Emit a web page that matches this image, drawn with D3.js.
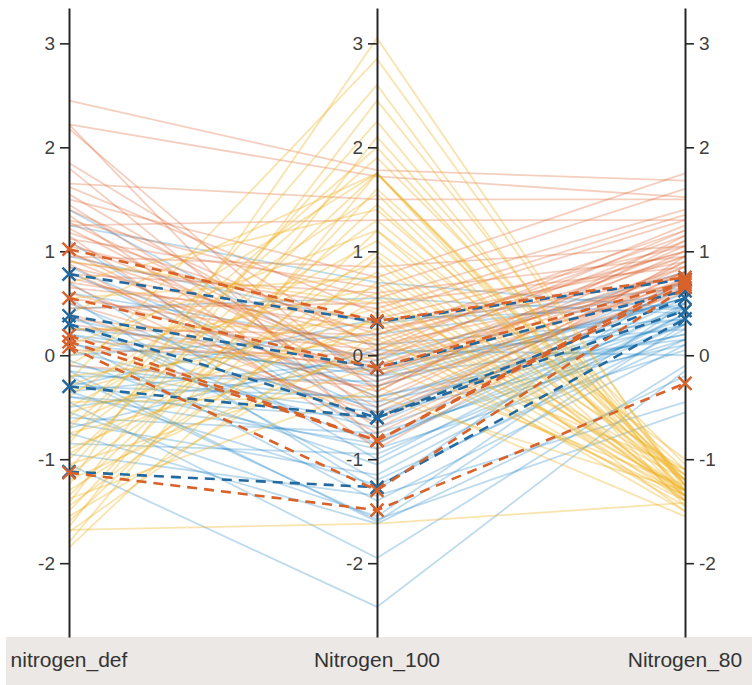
<!DOCTYPE html>
<html>
<head>
<meta charset="utf-8">
<script src="https://cdn.jsdelivr.net/npm/d3@7"></script>
<style>
  html, body { margin: 0; padding: 0; background: #ffffff; }
  svg { display: block; }
</style>
</head>
<body>
<svg id="chart" width="752" height="685"></svg>
<script>
// ---- data ----
const dimensions = ["nitrogen_def", "Nitrogen_100", "Nitrogen_80"];
const tickValues = [-2, -1, 0, 1, 2, 3];

// group 1 (blue): [nitrogen_def, Nitrogen_100, Nitrogen_80]
const blueLines = [
  [1.40, -0.20, 0.55], [1.25, 0.70, 0.45], [1.10, -0.80, 0.30], [0.95, 0.30, 0.65],
  [0.85, -0.40, 0.20], [0.70, -1.00, 0.50], [0.60, 0.10, 0.35], [0.50, -0.65, 0.60],
  [0.45, 0.55, 0.40], [0.40, -1.20, 0.15], [0.35, -0.30, 0.55], [0.30, -0.85, 0.45],
  [0.25, 0.00, 0.25], [0.20, -0.50, 0.70], [0.15, -1.40, 0.10], [0.10, -0.15, 0.50],
  [0.05, -0.70, 0.35], [0.00, 0.20, 0.60], [-0.05, -1.05, 0.40], [-0.10, -0.45, 0.20],
  [-0.15, -1.60, 0.30], [-0.20, -0.25, 0.55], [-0.25, -0.90, 0.05], [-0.30, 0.35, 0.45],
  [-0.35, -1.25, 0.25], [-0.40, -0.60, 0.65], [-0.45, -1.95, -0.10], [-0.50, -0.10, 0.35],
  [-0.55, -1.55, 0.50], [-0.60, -0.75, 0.15], [-0.65, -1.15, 0.40], [-0.70, 0.05, 0.00],
  [-0.75, -1.62, -0.20], [-0.85, -0.95, 0.30], [-0.95, -1.35, -0.45], [-1.05, -2.42, -0.15],
  [-0.20, -1.58, -0.55], [0.55, -1.30, 0.75], [-0.35, -0.05, 0.80], [0.80, -0.55, 0.10],
  [-0.30, -0.40, 0.30], [-0.40, -0.85, 0.55], [0.20, -0.20, 0.15], [-0.15, -0.55, 0.45]
];

// group 2 (orange)
const orangeLines = [
  [2.45, 1.78, 1.68], [2.22, 1.72, 1.52], [2.22, -0.85, 0.95], [2.18, -0.35, 1.10],
  [1.85, 0.05, 1.25], [1.80, -0.60, 0.80], [1.65, 1.50, 1.50], [1.62, 0.40, 1.30],
  [1.55, -0.20, 1.05], [1.50, 0.75, 1.75], [1.45, -0.45, 0.90], [1.40, 0.10, 1.15],
  [1.35, -0.70, 0.70], [1.30, 0.55, 1.40], [1.28, -0.15, 0.85], [1.25, 1.30, 1.30],
  [1.22, -0.30, 1.00], [1.18, 0.20, 1.20], [1.15, -0.90, 0.75], [1.12, 0.65, 1.60],
  [1.08, -0.10, 0.95], [1.05, 0.30, 0.90], [1.00, -0.50, 0.80], [0.98, 0.00, 1.10],
  [0.95, 0.85, 1.05], [0.92, -0.25, 0.70], [0.90, 0.45, 1.35], [0.88, -0.75, 0.65],
  [0.85, 0.15, 1.00], [0.80, -0.40, 0.85], [0.78, 0.60, 0.95], [0.75, -0.05, 1.20],
  [0.70, 0.25, 0.75], [0.68, -0.65, 0.90], [0.65, 0.35, 1.05], [0.60, -0.20, 0.80],
  [0.55, 0.10, 0.70], [0.50, -0.35, 1.15], [0.45, 0.50, 0.85], [0.40, -0.55, 0.75],
  [0.35, 0.05, 0.95], [0.30, -0.15, 0.65], [0.25, 0.20, 1.00], [0.15, -0.10, 0.80],
  [0.05, 0.00, 0.70], [-0.10, -0.30, 0.60]
];

// group 3 (yellow)
const yellowLines = [
  [-1.85, 0.95, -1.35], [-1.80, 1.75, -1.25], [-1.68, -1.62, -1.42], [-1.70, 0.40, -1.30],
  [-1.65, 2.10, -1.20], [-1.60, 1.20, -1.40], [-1.55, 0.20, -1.50], [-1.50, 1.60, -1.10],
  [-1.45, 0.70, -1.35], [-1.42, 2.45, -1.25], [-1.38, -0.30, -1.55], [-1.35, 1.45, -1.30],
  [-1.30, 0.55, -1.15], [-1.25, 3.05, -1.30], [-1.20, 0.10, -1.40], [-1.15, 1.00, -1.20],
  [-1.10, 2.25, -1.35], [-1.05, -0.10, -1.25], [-1.00, 1.75, -1.45], [-0.95, 0.80, -1.10],
  [-0.90, 0.35, -1.30], [-0.85, 2.60, -1.40], [-0.80, 1.30, -1.20], [-0.75, 0.00, -1.35],
  [-0.70, 1.90, -1.05], [-0.65, 0.60, -1.30], [-0.60, 2.00, -1.25], [-0.55, 0.25, -1.45],
  [-0.50, 1.10, -1.15], [-0.45, -0.40, -1.30], [-0.40, 1.55, -1.35], [-0.35, 0.45, -1.20],
  [-0.30, 0.90, -1.40], [-0.25, 2.85, -1.25], [-0.20, 0.15, -1.10], [-0.10, 1.75, -1.30],
  [0.00, 0.65, -1.50], [0.10, 1.20, -1.00], [0.25, 0.30, -1.35], [0.40, 1.75, -1.20],
  [0.55, 0.75, -1.30], [0.70, 1.40, -1.15], [0.90, 0.50, -1.40]
];

// highlighted (dashed, x markers)
const blueDashed = [
  [0.78, 0.32, 0.73], [0.38, -0.12, 0.62], [0.30, -0.60, 0.43],
  [-0.30, -0.60, 0.55], [-1.12, -1.27, 0.35]
];
const orangeDashed = [
  [1.02, 0.33, 0.75], [0.55, -0.12, 0.70], [0.19, -0.82, 0.68],
  [0.08, -1.30, 0.65], [0.13, -0.82, 0.72], [-1.13, -1.49, -0.27]
];

// ---- chart ----
const W = 752, H = 685;
const svg = d3.select("#chart");
const plotTop = 8, plotBottom = 637;

const x = d3.scalePoint().domain(dimensions).range([69, 685]);
const y = d3.scaleLinear().domain([-2.71, 3.34]).range([plotBottom, plotTop]);

const line = d3.line()
  .x((d, i) => x(dimensions[i]))
  .y(d => y(d));

// bottom band
svg.append("rect")
  .attr("x", 6).attr("y", plotBottom)
  .attr("width", W - 6).attr("height", H - plotBottom)
  .attr("fill", "#ebe8e5");

const groups = [
  { data: blueLines, color: "#0072BD", opacity: 0.26 },
  { data: orangeLines, color: "#D95319", opacity: 0.28 },
  { data: yellowLines, color: "#EDB120", opacity: 0.36 }
];

groups.forEach(g => {
  svg.append("g").selectAll("path")
    .data(g.data).join("path")
    .attr("d", line)
    .attr("fill", "none")
    .attr("stroke", g.color)
    .attr("stroke-opacity", g.opacity)
    .attr("stroke-width", 1.8);
});

// axes
dimensions.forEach((dim, i) => {
  const isRight = i === dimensions.length - 1;
  const axis = (isRight ? d3.axisRight(y) : d3.axisLeft(y))
    .tickValues(tickValues)
    .tickFormat(d => d < 0 ? "-" + Math.abs(d) : String(d))
    .tickSize(9).tickSizeOuter(0).tickPadding(5);
  const ag = svg.append("g")
    .attr("transform", `translate(${x(dim)},0)`)
    .call(axis);
  ag.select(".domain").attr("stroke", "#262626").attr("stroke-width", 2);
  ag.selectAll(".tick line").attr("stroke", "#262626").attr("stroke-width", 1.6);
  ag.selectAll(".tick text")
    .attr("fill", "#404040")
    .style("font-family", "'Liberation Sans', Arial, sans-serif")
    .style("font-size", "19px");

  svg.append("text")
    .attr("x", x(dim)).attr("y", 667)
    .attr("text-anchor", "middle")
    .attr("fill", "#333333")
    .style("font-family", "'Liberation Sans', Arial, sans-serif")
    .style("font-size", "21px")
    .text(dim);
});

// dashed highlighted lines and markers
const dashed = [
  { data: blueDashed, color: "#22699f" },
  { data: orangeDashed, color: "#d8622a" }
];
dashed.forEach(g => {
  const gg = svg.append("g");
  gg.selectAll("path.ln")
    .data(g.data).join("path")
    .attr("class", "ln")
    .attr("d", line)
    .attr("fill", "none")
    .attr("stroke", g.color)
    .attr("stroke-width", 2.6)
    .attr("stroke-dasharray", "10,7");
  const pts = [];
  g.data.forEach(row => row.forEach((v, i) => pts.push({ cx: x(dimensions[i]), cy: y(v) })));
  const s = 6.5;
  gg.selectAll("path.mk")
    .data(pts).join("path")
    .attr("class", "mk")
    .attr("d", p => `M${p.cx - s},${p.cy - s}L${p.cx + s},${p.cy + s}M${p.cx - s},${p.cy + s}L${p.cx + s},${p.cy - s}`)
    .attr("stroke", g.color)
    .attr("stroke-width", 2.4)
    .attr("fill", "none");
});
</script>
</body>
</html>
